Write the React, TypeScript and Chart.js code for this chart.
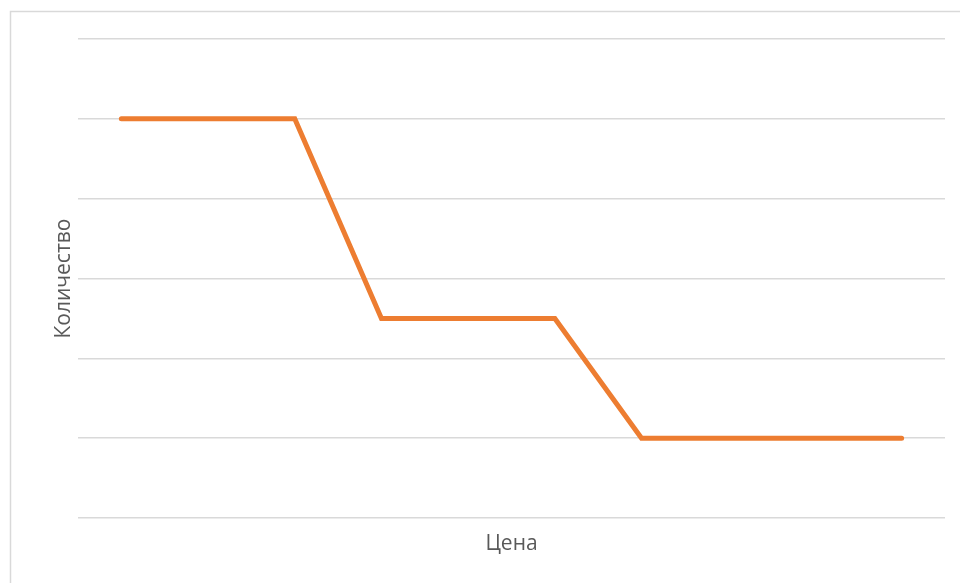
import React, { useEffect, useRef } from "react";
import { Chart, registerables } from "chart.js";

Chart.register(...registerables);

// Price steps (category axis) and the quantity demanded at each step
const priceLabels: string[] = ["1", "2", "3", "4", "5", "6", "7", "8", "9", "10"];
const quantityValues: number[] = [5, 5, 5, 2.5, 2.5, 2.5, 1, 1, 1, 1];

// Value axis range (gridlines every unit, no tick labels shown)
const quantityMin = 0;
const quantityMax = 6;
const quantityStep = 1;

const xTitle = "Цена";
const yTitle = "Количество";

const FONT = "'Open Sans', 'Noto Sans', 'DejaVu Sans', sans-serif";
const TEXT_COLOR = "#595959";
const GRID_COLOR = "#d9d9d9";
const LINE_COLOR = "#ED7D31";

// White background plus the light frame around the chart
const framePlugin = {
  id: "frame",
  beforeDraw(chart: Chart) {
    const { ctx, width, height } = chart;
    ctx.save();
    ctx.fillStyle = "#ffffff";
    ctx.fillRect(0, 0, width, height);
    ctx.strokeStyle = GRID_COLOR;
    ctx.lineWidth = 1.5;
    ctx.strokeRect(10.5, 11.5, width + 50, height + 50);
    ctx.restore();
  },
};

export default function App() {
  const canvasRef = useRef<HTMLCanvasElement | null>(null);

  useEffect(() => {
    if (!canvasRef.current) return;
    const chart = new Chart(canvasRef.current, {
      type: "line",
      data: {
        labels: priceLabels,
        datasets: [
          {
            data: quantityValues,
            borderColor: LINE_COLOR,
            backgroundColor: LINE_COLOR,
            borderWidth: 5,
            pointRadius: 0,
            pointHoverRadius: 0,
            tension: 0,
            fill: false,
            borderCapStyle: "round",
            borderJoinStyle: "miter",
          },
        ],
      },
      options: {
        responsive: false,
        animation: false,
        events: [],
        layout: { padding: { top: 39, right: 15, left: 0, bottom: 0 } },
        plugins: {
          legend: { display: false },
          tooltip: { enabled: false },
          title: { display: false },
        },
        scales: {
          x: {
            type: "category",
            offset: true,
            grid: { display: false, drawTicks: false },
            border: { display: false },
            ticks: { display: false },
            title: {
              display: true,
              text: xTitle,
              color: TEXT_COLOR,
              font: { family: FONT, size: 21 },
              padding: { top: 0, bottom: 26 },
            },
            afterFit(scale: any) {
              scale.height = 65;
            },
          },
          y: {
            min: quantityMin,
            max: quantityMax,
            grid: { color: GRID_COLOR, lineWidth: 1.5, drawTicks: false },
            border: { display: false },
            ticks: { display: false, stepSize: quantityStep },
            title: {
              display: true,
              text: yTitle,
              color: TEXT_COLOR,
              font: { family: FONT, size: 21 },
              padding: { top: 51, bottom: 0 },
            },
            afterFit(scale: any) {
              scale.width = 78;
            },
          },
        },
      },
      plugins: [framePlugin],
    });
    return () => chart.destroy();
  }, []);

  return (
    <div style={{ position: "absolute", left: 0, top: 0, width: 960, height: 583 }}>
      <canvas ref={canvasRef} width={960} height={583} />
    </div>
  );
}
